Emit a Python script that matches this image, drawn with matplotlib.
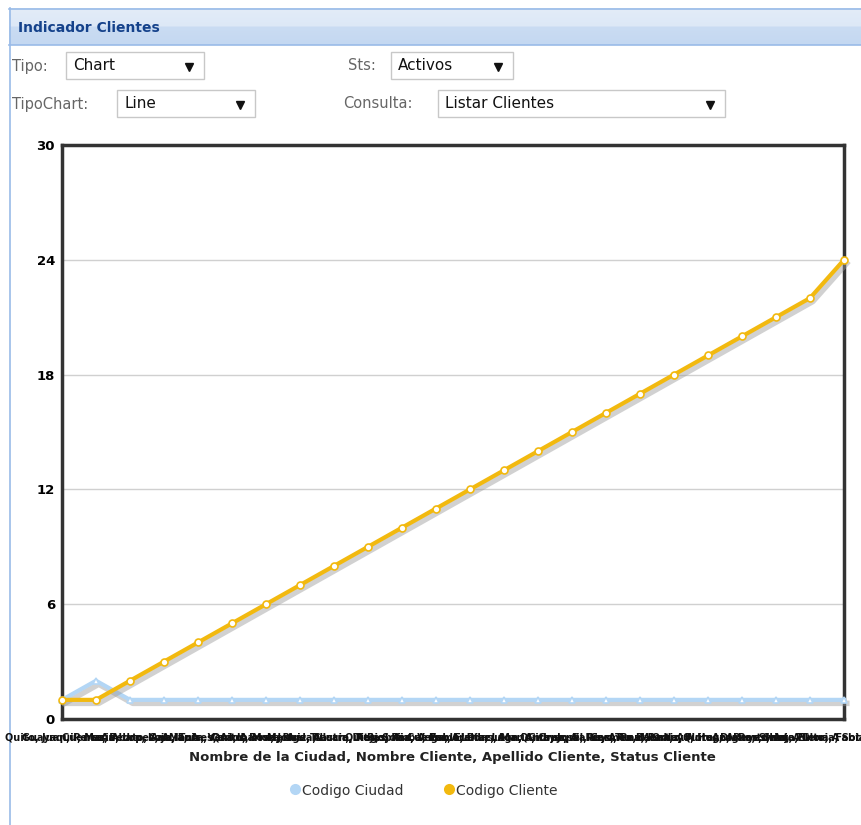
import numpy as np
import matplotlib
matplotlib.use('Agg')
import matplotlib.pyplot as plt
import matplotlib.patheffects as pe
from matplotlib.patches import Rectangle

W, H = 861, 825

# series del grafico
codigo_ciudad = [1, 2, 1, 1, 1, 1, 1, 1, 1, 1, 1, 1, 1, 1, 1, 1, 1, 1, 1, 1, 1, 1, 1, 1]
codigo_cliente = [1, 1, 2, 3, 4, 5, 6, 7, 8, 9, 10, 11, 12, 13, 14, 15, 16, 17, 18, 19, 20, 21, 22, 24]
ciudades = ['Quito', 'Guayaquil', 'Cuenca', 'Ambato', 'Loja', 'Manta', 'Quito', 'Ibarra',
            'Machala', 'Tulcan', 'Quito', 'Riobamba', 'Cuenca', 'Esmeraldas', 'Latacunga', 'Quito',
            'Guayaquil', 'Puyo', 'Tena', 'Babahoyo', 'Quito', 'Azogues', 'Portoviejo', 'Santa Elena']
nombres = ['Juan', 'Maria', 'Pedro', 'Ana', 'Luis', 'Carlos', 'Rosa', 'Jorge', 'Lucia', 'Diego',
           'Sofia', 'Pablo', 'Elena', 'Mario', 'Andrea', 'Jose', 'Carmen', 'Raul', 'Paola', 'Hugo',
           'Diana', 'Ivan', 'Gloria', 'Fabian']
apellidos = ['Perez', 'Lopez', 'Garcia', 'Torres', 'Vera', 'Mora', 'Ruiz', 'Castro', 'Rojas', 'Paz',
             'Vega', 'Diaz', 'Leon', 'Cruz', 'Salas', 'Rios', 'Mena', 'Ortiz', 'Flores', 'Reyes',
             'Silva', 'Pinto', 'Soto', 'Bravo']
etiquetas = [f'{c}, {n}, {a}, A' for c, n, a in zip(ciudades, nombres, apellidos)]
y_ticks = [0, 6, 12, 18, 24, 30]

fig = plt.figure(figsize=(W / 100, H / 100), dpi=100)

# capa de fondo en pixeles para el panel y los combos
bg = fig.add_axes([0, 0, 1, 1])
bg.set_xlim(0, W)
bg.set_ylim(H, 0)
bg.axis('off')

grad = np.linspace(0, 1, 40).reshape(-1, 1)
grad = np.where(grad < 0.5, 0.0, 1.0) * 0.6 + grad * 0.4
cmap = matplotlib.colors.LinearSegmentedColormap.from_list('hdr', ['#e3ecf8', '#c4d8f1'])
bg.imshow(grad, extent=(9, W, 45, 8), cmap=cmap, aspect='auto', zorder=0)
bg.plot([9, W], [8.5, 8.5], color='#99bbe8', lw=1.2)
bg.plot([9, W], [45, 45], color='#99bbe8', lw=1.2)
bg.plot([9.5, 9.5], [8, H], color='#99bbe8', lw=1.2)
bg.text(18, 28, 'Indicador Clientes', fontsize=10, fontweight='bold', color='#15428b',
        va='center', ha='left', family='DejaVu Sans')

lbl_kw = dict(fontsize=10.5, color='#666666', va='center', ha='left')
val_kw = dict(fontsize=11, color='#111111', va='center', ha='left')


def combo(x0, x1, y0, y1, valor):
    bg.add_patch(Rectangle((x0, y0), x1 - x0, y1 - y0, facecolor='white',
                           edgecolor='#c8c8c8', lw=1, zorder=2))
    bg.text(x0 + 7, (y0 + y1) / 2, valor, zorder=3, **val_kw)
    bg.plot([x1 - 15], [(y0 + y1) / 2 + 1], marker='v', color='#111111', ms=6, zorder=3)


bg.text(12, 66, 'Tipo:', **lbl_kw)
combo(66, 204, 52, 79, 'Chart')
bg.text(348, 66, 'Sts:', **lbl_kw)
combo(391, 513, 52, 79, 'Activos')
bg.text(12, 104, 'TipoChart:', **lbl_kw)
combo(117, 255, 90, 117, 'Line')
bg.text(343, 104, 'Consulta:', **lbl_kw)
combo(438, 725, 90, 117, 'Listar Clientes')

# area del grafico
left, right, top, bottom = 62, 844, 145, 719
ax = fig.add_axes([left / W, 1 - bottom / H, (right - left) / W, (bottom - top) / H])
x = np.arange(len(codigo_cliente))
ax.set_xlim(0, len(x) - 1)
ax.set_ylim(0, 30)
ax.set_yticks(y_ticks)
ax.set_yticklabels([str(v) for v in y_ticks], fontweight='bold', fontsize=9.5)
ax.tick_params(axis='y', length=0, pad=5)
ax.grid(axis='y', color='#d0d0d0', lw=1)
ax.set_axisbelow(True)
for s in ax.spines.values():
    s.set_color('#333333')
    s.set_linewidth(2.5)

# sombra solo sobre la linea, los marcadores van aparte
sombra = [pe.SimpleLineShadow(offset=(2, -2.5), shadow_color='#9a9a9a', alpha=0.45, linewidth=4),
          pe.Normal()]
series = [(codigo_ciudad, '#b3d6f5', '^', 5), (codigo_cliente, '#f2b90f', 'o', 5)]
for i, (vals, col, mk, ms) in enumerate(series):
    ax.plot(x, vals, color=col, lw=3, path_effects=sombra, clip_on=False, zorder=3 + i)
    ax.plot(x, vals, ls='none', marker=mk, ms=ms, mfc='white', mec=col, mew=1.2,
            clip_on=False, zorder=3.5 + i)

ax.set_xticks(x)
ax.set_xticklabels(etiquetas, fontsize=7, fontweight='bold', color='#111111')
ax.tick_params(axis='x', length=0, pad=10)

bg.text(452, 757, 'Nombre de la Ciudad, Nombre Cliente, Apellido Cliente, Status Cliente',
        fontsize=9.5, fontweight='bold', color='#222222', ha='center', va='center')

# leyenda
bg.plot([295], [789], marker='o', ms=8, color='#b3d6f5', mec='none')
bg.text(302, 791, 'Codigo Ciudad', fontsize=10, color='#333333', va='center', ha='left')
bg.plot([449], [789], marker='o', ms=8, color='#f2b90f', mec='none')
bg.text(456, 791, 'Codigo Cliente', fontsize=10, color='#333333', va='center', ha='left')

fig.savefig('out.png', dpi=100)
